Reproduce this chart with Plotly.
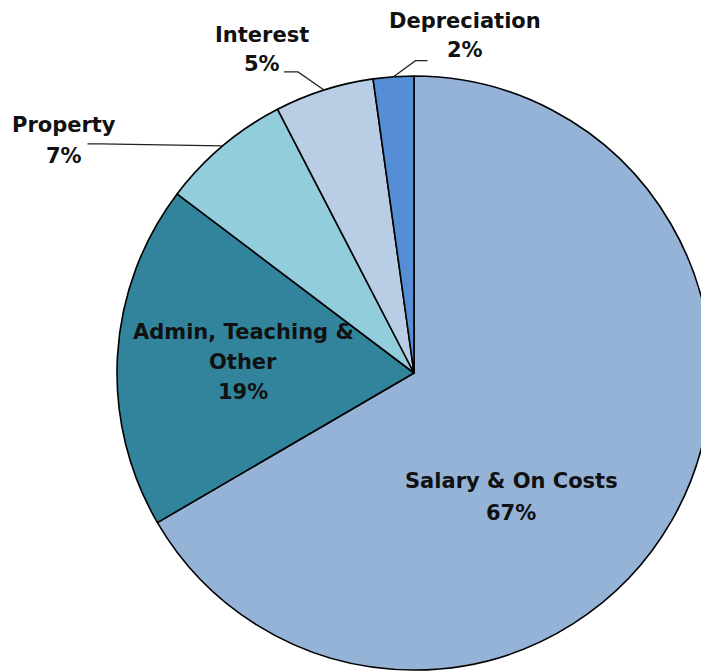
import math
import plotly.graph_objects as go

# ---- data ----
labels = ["Salary & On Costs", "Admin, Teaching & Other", "Property", "Interest", "Depreciation"]
display_labels = ["Salary & On Costs", "Admin, Teaching &<br>Other", "Property", "Interest", "Depreciation"]
values = [66.6, 18.7, 7.1, 5.4, 2.2]
colors = ["#95B3D7", "#31849B", "#92CDDC", "#B9CDE5", "#558ED5"]

# ---- layout geometry (pixels) ----
W, H = 730, 671
ML, MR, MT, MB = 117, 19, 76, 1
PW, PH = W - ML - MR, H - MT - MB
R = min(PW, PH) / 2
CX, CY = ML + PW / 2, MT + PH / 2


def px2paper(x, y):
    return (x - ML) / PW, (H - MB - y) / PH


FONT = dict(family="DejaVu Sans", size=21, color="#111111", weight="bold")

fig = go.Figure(go.Pie(
    labels=labels,
    values=values,
    sort=False,
    direction="clockwise",
    rotation=0,
    textinfo="none",
    hoverinfo="label+percent",
    marker=dict(colors=colors, line=dict(color="#000000", width=1.6)),
    domain=dict(x=[0, 1], y=[0, 1]),
    showlegend=False,
))

total = sum(values)
pcts = [round(v / total * 100) for v in values]

# label placement (pixel centre x, baseline of first line, line spacing)
label_pos = {
    "Salary & On Costs": (511, 488, 32),
    "Admin, Teaching & Other": (243, 339, 30),
    "Property": (64, 132, 31),
    "Interest": (262, 42, 30),
    "Depreciation": (465, 28, 30),
}
# leader line offsets from the slice edge (elbow, end) in pixels
leader = {
    "Property": [(-122, -2), (-135, -2)],
    "Interest": [(-26, -18), (-40, -18)],
    "Depreciation": [(22, -16), (34, -16)],
}

annotations = []
shapes = []
cum = 0.0
for lab, disp, v, p in zip(labels, display_labels, values, pcts):
    start = cum / total * 360
    end = (cum + v) / total * 360
    cum += v
    mid = math.radians((start + end) / 2)
    lines = disp.split("<br>") + [f"{p}%"]
    x0, b0, sp = label_pos[lab]
    for i, t in enumerate(lines):
        ax, ay = px2paper(x0, b0 + i * sp - 7.5)
        annotations.append(dict(
            x=ax, y=ay, xref="paper", yref="paper", text=t, showarrow=False,
            xanchor="center", yanchor="middle", font=FONT,
        ))
    if lab in leader:
        ex, ey = CX + R * math.sin(mid), CY - R * math.cos(mid)
        pts = [(ex, ey)] + [(ex + dx, ey + dy) for dx, dy in leader[lab]]
        pp = [px2paper(x, y) for x, y in pts]
        path = "M " + " L ".join(f"{x:.5f},{y:.5f}" for x, y in pp)
        shapes.append(dict(type="path", xref="paper", yref="paper", path=path,
                           line=dict(color="#222222", width=1.3)))

fig.update_layout(
    width=W, height=H,
    margin=dict(l=ML, r=MR, t=MT, b=MB, pad=0),
    paper_bgcolor="#FFFFFF",
    plot_bgcolor="#FFFFFF",
    annotations=annotations,
    shapes=shapes,
)

fig.write_html(
    "out.html",
    post_script="document.documentElement.style.overflow='hidden';document.body.style.overflow='hidden';",
)
